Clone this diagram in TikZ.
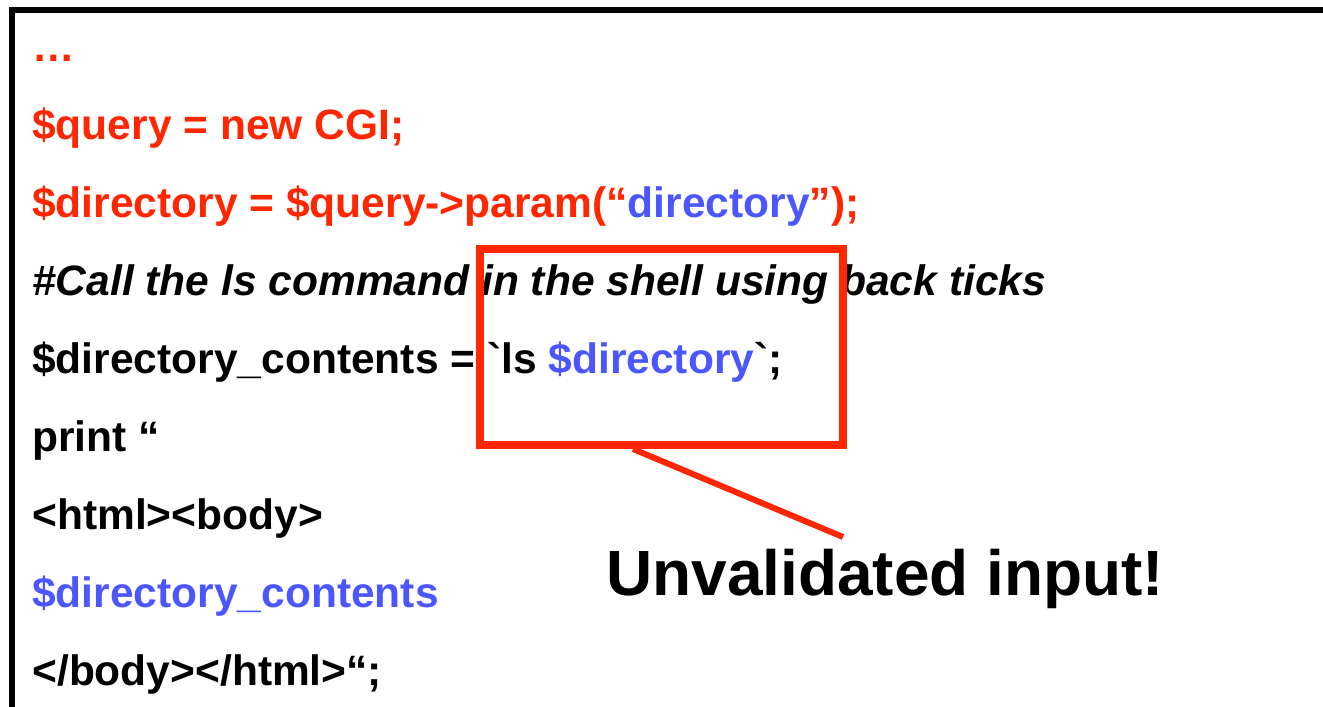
\documentclass[tikz,border=0pt]{standalone}
\usepackage{fontspec}
\newfontfamily\codefont{Liberation Sans}
\definecolor{codered}{RGB}{255,38,0}
\definecolor{codeblue}{RGB}{76,86,255}

\begin{document}
\begin{tikzpicture}[x=0.02cm, y=-0.02cm]
  \tikzstyle{every node} = [inner sep=0pt, anchor=base west]
  \tikzstyle{code} = [font=\codefont\bfseries\fontsize{24.2}{28}\selectfont]
  \useasboundingbox (0,0) rectangle (1323,707);
  \draw[line width=0.12cm] (12,707) -- (12,10) -- (1323,10);
  \node[code, text=codered] (dots) at (32,61) {…};
  \node[code, text=codered] (query) at (32,139) {\$query = new CGI;};
  \node[code, text=codered] (param) at (32,217)
    {\$directory = \$query->param(“\textcolor{codeblue}{directory}”);};
  \node[code, font=\codefont\bfseries\itshape\fontsize{24.2}{28}\selectfont] (comment) at (32,295)
    {\#Call the ls command in the shell using back ticks};
  \node[code] (ls) at (32,373) {\$directory\_contents = `ls \textcolor{codeblue}{\$directory}`;};
  \node[code] (print) at (32,451) {print “};
  \node[code] (open) at (32,529) {<html><body>};
  \node[code, text=codeblue] (contents) at (32,607) {\$directory\_contents};
  \node[code] (close) at (32,685) {</body></html>“;};
  \node[draw=codered, line width=0.16cm, anchor=center,
        minimum width=7.26cm, minimum height=3.92cm] (box) at (661.5,347) {};
  \node[font=\codefont\bfseries\fontsize{36.4}{42}\selectfont] (warn) at (606,595) {Unvalidated input!};
  \coordinate (tip) at (843,537);
  \draw[codered, line width=0.12cm] ([xshift=-0.57cm]box.south) -- (tip);
\end{tikzpicture}
\end{document}
